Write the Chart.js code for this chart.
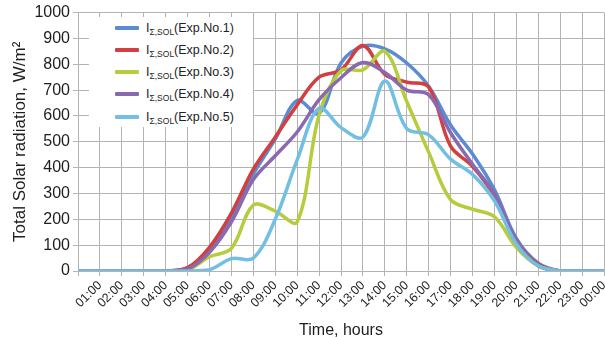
<!DOCTYPE html>
<html>
<head>
<meta charset="utf-8">
<script src="https://cdn.jsdelivr.net/npm/chart.js@4/dist/chart.umd.min.js"></script>
<style>
  html, body { margin: 0; padding: 0; background: #fff; }
  #wrap { position: relative; width: 605px; height: 337px; }
  #legend { position: absolute; left: 89px; top: 17px; width: 164px; height: 110px; background: #fff;
            font-family: "Liberation Sans", Arial, sans-serif; font-size: 12.5px; color: #222; }
  .item { position: absolute; left: 0; height: 20px; line-height: 20px; white-space: nowrap; }
  .swatch { position: absolute; left: 26px; top: 8px; width: 24px; height: 4px; border-radius: 1px; }
  .txt { position: absolute; left: 57px; top: 0; }
  .txt sub { font-size: 8.5px; vertical-align: -3px; line-height: 0; }
</style>
</head>
<body>
<div id="wrap">
  <canvas id="c" width="605" height="337"></canvas>
  <div id="legend"></div>
</div>
<script>
// ---- data ----
const hours = [0,1,2,3,4,5,6,7,8,9,10,11,12,13,14,15,16,17,18,19,20,21,22,23,24];
const seriesNames = ["Exp.No.1", "Exp.No.2", "Exp.No.3", "Exp.No.4", "Exp.No.5"];
const exp1 = [0,0,0,0,0,10,85,210,375,510,660,610,805,870,860,805,715,565,453,315,126,30,0,0,0];
const exp2 = [0,0,0,0,0,13,92,224,394,518,643,750,778,873,761,731,712,483,405,290,118,25,0,0,0];
const exp3 = [0,0,0,0,0,3,55,88,255,232,190,604,775,778,850,656,460,276,239,210,92,20,0,0,0];
const exp4 = [0,0,0,0,0,7,72,190,354,446,538,663,748,807,768,700,682,535,413,298,118,20,0,0,0];
const exp5 = [0,0,0,0,0,0,5,48,50,200,430,630,555,518,735,551,527,433,374,272,105,20,0,0,0];
const yTicks = [0,100,200,300,400,500,600,700,800,900,1000];
const xTickLabels = ["","01:00","02:00","03:00","04:00","05:00","06:00","07:00","08:00","09:00","10:00","11:00","12:00",
  "13:00","14:00","15:00","16:00","17:00","18:00","19:00","20:00","21:00","22:00","23:00","00:00"];
const colors = ["#5b8bd3", "#d23f3f", "#b5cd3c", "#8a69b1", "#72bfe3"];

const allSeries = [exp1, exp2, exp3, exp4, exp5];
const FONT = "'Liberation Sans', Arial, sans-serif";
const TXT = "#1e1e1e";
const GRID = "#b3b3b3";

const datasets = allSeries.map((s, i) => ({
  label: seriesNames[i],
  data: hours.map((h, k) => ({ x: h, y: s[k] })),
  borderColor: colors[i],
  backgroundColor: colors[i],
  borderWidth: 3.5,
  pointRadius: 0,
  tension: 0.35,
  fill: false,
  order: -i
}));

new Chart(document.getElementById('c'), {
  type: 'line',
  data: { datasets },
  options: {
    responsive: false,
    animation: false,
    devicePixelRatio: 1,
    layout: { padding: { top: 12, right: 1, left: 0, bottom: 0 } },
    plugins: { legend: { display: false }, tooltip: { enabled: false } },
    scales: {
      x: {
        type: 'linear', min: 0, max: 24,
        afterBuildTicks: (sc) => { sc.ticks = hours.map(h => ({ value: h })); },
        afterFit: (sc) => { sc.height = 66; sc.paddingRight = 0; sc.paddingLeft = 0; },
        ticks: {
          autoSkip: false, maxRotation: 45, minRotation: 45, padding: 2,
          color: TXT, font: { family: FONT, size: 12.5 },
          callback: (v) => xTickLabels[v]
        },
        grid: { color: GRID, lineWidth: 1, tickLength: 5, drawTicks: true },
        border: { display: true, color: GRID },
        title: { display: true, text: 'Time, hours', color: TXT, font: { family: FONT, size: 16, lineHeight: 1 }, padding: { top: 0, bottom: -2 } }
      },
      y: {
        min: 0, max: 1000,
        afterBuildTicks: (sc) => { sc.ticks = yTicks.map(v => ({ value: v })); },
        afterFit: (sc) => { sc.width = 78; },
        ticks: { color: TXT, font: { family: FONT, size: 16 }, padding: 3, callback: (v) => String(v) },
        grid: { color: GRID, lineWidth: 1, tickLength: 5 },
        border: { display: true, color: GRID },
        title: { display: true, text: 'Total Solar radiation, W/m\u00B2', color: TXT, font: { family: FONT, size: 17 }, padding: { top: 10, bottom: 0 } }
      }
    }
  }
});

// HTML legend (with subscripts), built from the series names and colours
const leg = document.getElementById('legend');
const rowTops = [1, 23, 45, 67, 90];
seriesNames.forEach((name, i) => {
  const d = document.createElement('div');
  d.className = 'item';
  d.style.top = rowTops[i] + 'px';
  d.innerHTML = '<span class="swatch" style="background:' + colors[i] + '"></span>' +
    '<span class="txt">I<sub>\u03A3,SOL</sub>(' + name + ')</span>';
  leg.appendChild(d);
});
</script>
</body>
</html>
